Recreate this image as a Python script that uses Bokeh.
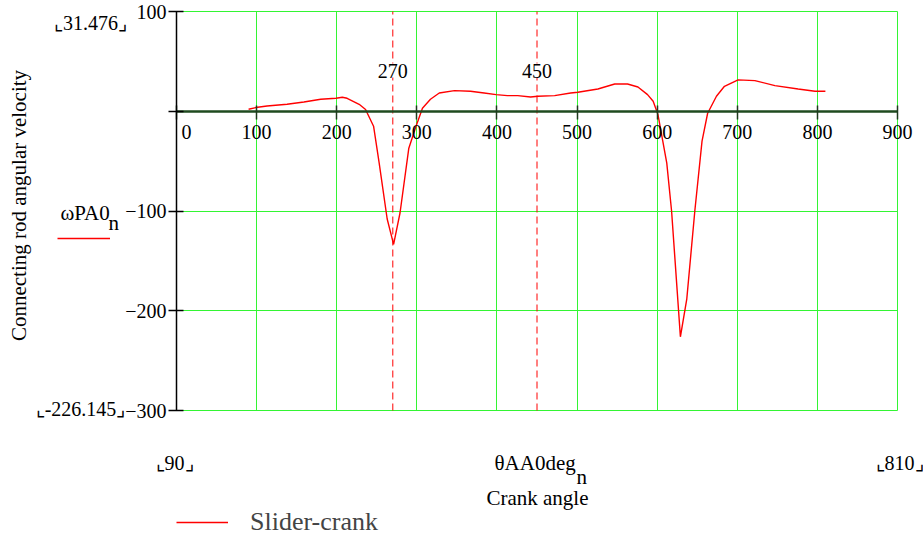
import math
from bokeh.plotting import figure
from bokeh.models import (Range1d, FixedTicker, Label, Legend, LegendItem, Grid)
from bokeh.embed import file_html
from bokeh.resources import INLINE

# ---- data ----
theta_deg = [90, 99, 113, 138, 159, 180, 199, 207, 213, 228, 236, 246, 253, 263, 271,
             279, 290, 299, 307, 317, 328, 347, 367, 384, 399, 413, 426, 442, 451, 472,
             492, 501, 526, 547, 563, 576, 588, 595, 601, 612, 618, 629, 637, 647, 656,
             663, 674, 684, 701, 722, 747, 776, 797, 810]
omega = [2.0, 3.7, 5.3, 7.0, 9.3, 12.0, 13.0, 14.0, 13.0, 7.0, 1.7, -15.0, -52.0, -108.0, -133.5,
         -102.0, -37.0, -15.0, 3.0, 12.0, 18.3, 20.7, 20.0, 18.3, 16.7, 15.7, 15.7, 14.3, 15.0, 15.7,
         18.3, 19.0, 22.3, 27.3, 27.3, 24.3, 16.7, 10.0, -3.3, -52.0, -100.0, -226.1, -188.0, -100.0, -30.0,
         -2.0, 15.0, 25.0, 31.5, 30.7, 25.7, 22.3, 20.0, 20.0]

x_ticks = [0, 100, 200, 300, 400, 500, 600, 700, 800, 900]
y_ticks = [100, 0, -100, -200, -300]
y_tick_text = ["100", "", "\u2212100", "\u2212200", "\u2212300"]
x_grid_lines = [100, 200, 300, 400, 500, 600, 700, 800, 900]
y_grid_lines = [100, -100, -200, -300]
marker_angles = [270, 450]
x_limit_text = ["\u231e90\u231f", "\u231e810\u231f"]
y_limit_text = ["\u231e31.476\u231f", "\u231e-226.145\u231f"]
series_name = "Slider-crank"

# ---- layout ----
W, H = 923, 540
FL, FR, FT, FB = 176, 897, 11, 410          # plot-area edges in page pixels
XMIN, XMAX, YMIN, YMAX = 0, 900, -300, 100
FONT = "Liberation Serif"
GRID = "#33f533"

kx = (XMAX - XMIN) / (FR - FL)
ky = (YMAX - YMIN) / (FB - FT)


def X(px):
    return XMIN + (px - FL) * kx


def Y(py):
    return YMAX - (py - FT) * ky


p = figure(width=W, height=H, output_backend="svg", toolbar_location=None,
           x_range=Range1d(X(0), X(W)), y_range=Range1d(Y(H), Y(0)),
           min_border=0, min_border_left=0, min_border_right=0,
           min_border_top=0, min_border_bottom=0)
p.outline_line_color = None
p.background_fill_color = "white"
p.border_fill_color = "white"

# grids limited to the plot area
p.xgrid.visible = False
p.ygrid.visible = False
has_cross = "cross_bounds" in Grid.properties()
if has_cross:
    gx = Grid(dimension=0, ticker=FixedTicker(ticks=x_grid_lines), bounds=(XMIN, XMAX),
              cross_bounds=(YMIN, YMAX), grid_line_color=GRID, grid_line_width=1)
    gy = Grid(dimension=1, ticker=FixedTicker(ticks=y_grid_lines), bounds=(YMIN, YMAX),
              cross_bounds=(XMIN, XMAX), grid_line_color=GRID, grid_line_width=1)
    p.add_layout(gx)
    p.add_layout(gy)
else:
    p.segment(x0=x_grid_lines, y0=[YMIN] * len(x_grid_lines),
              x1=x_grid_lines, y1=[YMAX] * len(x_grid_lines),
              line_color=GRID, line_width=1)
    p.segment(x0=[XMIN] * len(y_grid_lines), y0=y_grid_lines,
              x1=[XMAX] * len(y_grid_lines), y1=y_grid_lines,
              line_color=GRID, line_width=1)

# marker lines
p.segment(x0=marker_angles, y0=[YMIN] * len(marker_angles),
          x1=marker_angles, y1=[YMAX] * len(marker_angles),
          line_color="red", line_dash="7 4", line_width=1)

curve = p.line(theta_deg, omega, line_color="red", line_width=1.4)

# x axis crossing at y = 0
xa = p.xaxis[0]
xa.fixed_location = 0
xa.bounds = (XMIN, XMAX)
xa.ticker = FixedTicker(ticks=x_ticks)
xa.major_label_overrides = {0: "\u20030"}
xa.axis_line_color = "#1f4a1f"
xa.axis_line_width = 2.5
xa.major_tick_line_color = "#1f3a1f"
xa.major_tick_line_width = 1.5
xa.major_tick_in = 6
xa.major_tick_out = 8
xa.minor_tick_line_color = None
xa.major_label_standoff = 2
xa.major_label_text_font = FONT
xa.major_label_text_font_size = "20px"
xa.major_label_text_color = "black"

ya = p.yaxis[0]
ya.fixed_location = 0
ya.bounds = (YMIN, YMAX)
ya.ticker = FixedTicker(ticks=y_ticks)
ya.major_label_overrides = {t: s for t, s in zip(y_ticks, y_tick_text)}
ya.axis_line_color = "black"
ya.axis_line_width = 1.5
ya.major_tick_line_color = "black"
ya.major_tick_line_width = 1.5
ya.major_tick_in = 7
ya.major_tick_out = 8
ya.minor_tick_line_color = None
ya.major_label_standoff = 2
ya.major_label_text_font = FONT
ya.major_label_text_font_size = "20px"
ya.major_label_text_color = "black"


def lab(text, px, py, size="20px", align="center", angle=0.0, bg=None):
    p.add_layout(Label(x=X(px), y=Y(py), text=text, text_font=FONT,
                       text_font_size=size, text_align=align, text_baseline="middle",
                       angle=angle, text_color="black",
                       background_fill_color=bg))


# marker value labels
for a in marker_angles:
    p.add_layout(Label(x=a, y=Y(70), text=str(a), text_font=FONT, text_font_size="20px",
                       text_align="center", text_baseline="middle", text_color="black",
                       background_fill_color="white"))

lab(y_limit_text[0], 90, 22)
lab(y_limit_text[1], 80, 408)
lab(x_limit_text[0], 174, 462)
lab(x_limit_text[1], 899, 462)
lab("\u03b8AA0deg", 494, 462, size="21px", align="left")
lab("n", 576, 476, size="21px", align="left")
lab("Crank angle", 537, 497, size="21px")
lab("Connecting rod angular velocity", 18, 205, size="21px", angle=math.pi / 2)
lab("\u03c9PA0", 60, 212, size="21px", align="left")
lab("n", 108, 222, size="21px", align="left")

# legend (bottom)
leg = Legend(items=[LegendItem(label=series_name, renderers=[curve])],
             location=(176, H - 537), orientation="vertical",
             glyph_width=52, glyph_height=30, label_standoff=22,
             label_text_font=FONT, label_text_font_size="26px",
             label_text_baseline="middle",
             padding=0, margin=0, spacing=0,
             border_line_color=None, background_fill_alpha=0)
p.add_layout(leg, "center")

# small series key on the left
leg2 = Legend(items=[LegendItem(label=" ", renderers=[curve])],
              location=(57, H - 248), glyph_width=53, glyph_height=20,
              label_standoff=0, label_text_font_size="1px",
              padding=0, margin=0, spacing=0,
              border_line_color=None, background_fill_alpha=0)
p.add_layout(leg2, "center")

open("out.html", "w").write(file_html(p, INLINE))
